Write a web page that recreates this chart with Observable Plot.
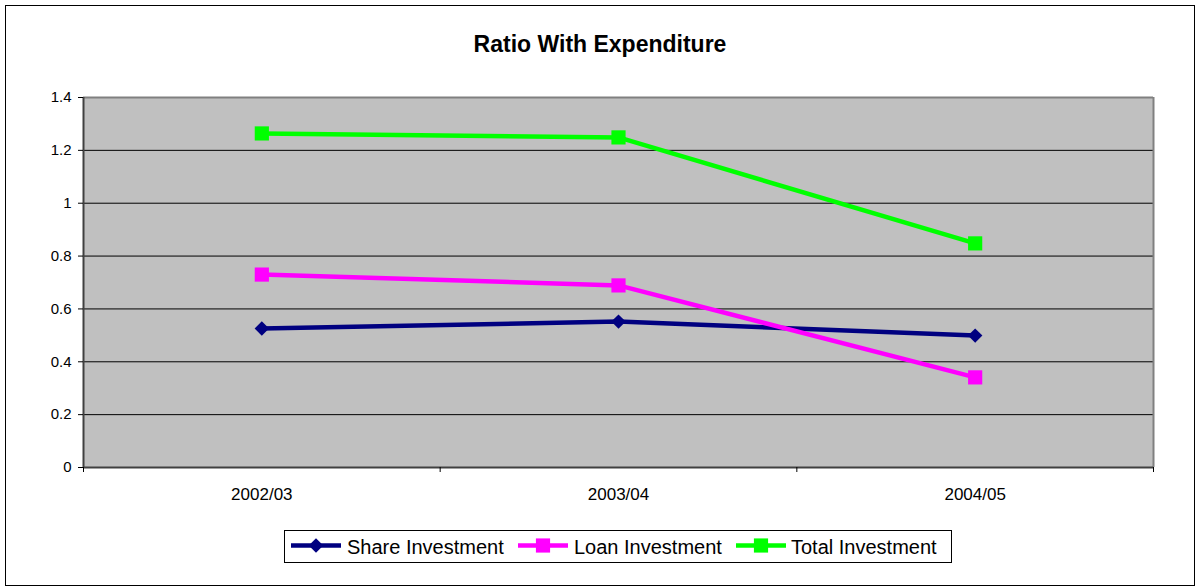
<!DOCTYPE html>
<html><head><meta charset="utf-8">
<script src="https://cdn.jsdelivr.net/npm/d3@7"></script>
<script src="https://cdn.jsdelivr.net/npm/@observablehq/plot@0.6"></script>
<style>
body{margin:0;background:#fff;font-family:"Liberation Sans",Arial,sans-serif;}
#wrap{position:relative;width:1195px;height:586px;overflow:hidden;background:#fff;}
#border{position:absolute;left:5px;top:5px;width:1190px;height:581px;box-sizing:border-box;border:1px solid #000;pointer-events:none;}
#chart{position:absolute;left:0;top:0;}
#title{position:absolute;left:0;top:33px;width:1200px;text-align:center;font-weight:bold;font-size:23px;line-height:23px;color:#000;}
#legend{position:absolute;left:0;top:0;}
</style></head>
<body>
<div id="wrap">
  <div id="chart"></div>
  <div id="title">Ratio With Expenditure</div>
  <svg id="legend" width="1195" height="586"></svg>
  <div id="border"></div>
</div>
<script>
const categories = ["2002/03", "2003/04", "2004/05"];
const seriesNames = ["Share Investment", "Loan Investment", "Total Investment"];
const shareValues = [0.526, 0.552, 0.499];
const loanValues = [0.730, 0.689, 0.341];
const totalValues = [1.264, 1.249, 0.848];
const yTicks = [0, 0.2, 0.4, 0.6, 0.8, 1, 1.2, 1.4];
const colors = ["#000080", "#ff00ff", "#00ff00"];

const seriesValues = [shareValues, loanValues, totalValues];
const data = seriesValues.flatMap((vals, s) =>
  vals.map((v, i) => ({series: seriesNames[s], cat: categories[i], x: i + 0.5, y: v})));

const font = '"Liberation Sans", Arial, sans-serif';

const chart = Plot.plot({
  width: 1195, height: 586,
  marginLeft: 83, marginRight: 42, marginTop: 97, marginBottom: 119,
  style: {fontFamily: font, background: "transparent", color: "#000"},
  x: {domain: [0, 3]},
  y: {domain: [0, 1.4]},
  color: {domain: seriesNames, range: colors},
  marks: [
    Plot.frame({fill: "#c0c0c0", stroke: null}),
    Plot.ruleY(yTicks.filter(d => d > 0 && d < 1.4), {stroke: "#000", strokeWidth: 1}),
    Plot.ruleY([1.4], {stroke: "#808080", strokeWidth: 2}),
    Plot.ruleX([3], {stroke: "#808080", strokeWidth: 2}),
    Plot.ruleX([0], {stroke: "#404040", strokeWidth: 2}),
    Plot.ruleY([0], {stroke: "#404040", strokeWidth: 2}),
    Plot.axisY({ticks: yTicks, tickSize: 5, tickPadding: 7, tickFormat: d => String(d), fontSize: 15, label: null}),
    Plot.axisX({ticks: [0, 1, 2, 3], tickSize: 5, tickFormat: () => "", label: null}),
    Plot.axisX({ticks: categories.map((c, i) => i + 0.5), tickSize: 0, tickPadding: 20,
      tickFormat: d => categories[Math.floor(d)], fontSize: 17, label: null}),
    Plot.line(data, {x: "x", y: "y", z: "series", stroke: "series", strokeWidth: 4.5}),
    Plot.dot(data.filter(d => d.series === seriesNames[0]), {x: "x", y: "y", fill: "series", symbol: () => "diamond2", r: 6.5}),
    Plot.dot(data.filter(d => d.series !== seriesNames[0]), {x: "x", y: "y", fill: "series", symbol: () => "square", r: 8})
  ]
});
document.getElementById("chart").appendChild(chart);

// Legend
const lg = d3.select("#legend");
lg.append("rect").attr("x", 284.5).attr("y", 530.5).attr("width", 667).attr("height", 32)
  .attr("fill", "#fff").attr("stroke", "#000").attr("stroke-width", 1);
const legendItems = [
  {x0: 291, textX: 347, sym: d3.symbolDiamond2, size: Math.PI * 6.5 * 6.5},
  {x0: 518, textX: 574, sym: d3.symbolSquare, size: Math.PI * 8 * 8},
  {x0: 736, textX: 791, sym: d3.symbolSquare, size: Math.PI * 8 * 8}
];
legendItems.forEach((it, i) => {
  lg.append("line").attr("x1", it.x0).attr("x2", it.x0 + 50).attr("y1", 545.5).attr("y2", 545.5)
    .attr("stroke", colors[i]).attr("stroke-width", 4.5);
  lg.append("path").attr("d", d3.symbol(it.sym, it.size)())
    .attr("transform", `translate(${it.x0 + 25},545.5)`).attr("fill", colors[i]);
  lg.append("text").attr("x", it.textX).attr("y", 554)
    .attr("font-family", font).attr("font-size", 20).attr("fill", "#000")
    .text(seriesNames[i]);
});
</script>
</body></html>
